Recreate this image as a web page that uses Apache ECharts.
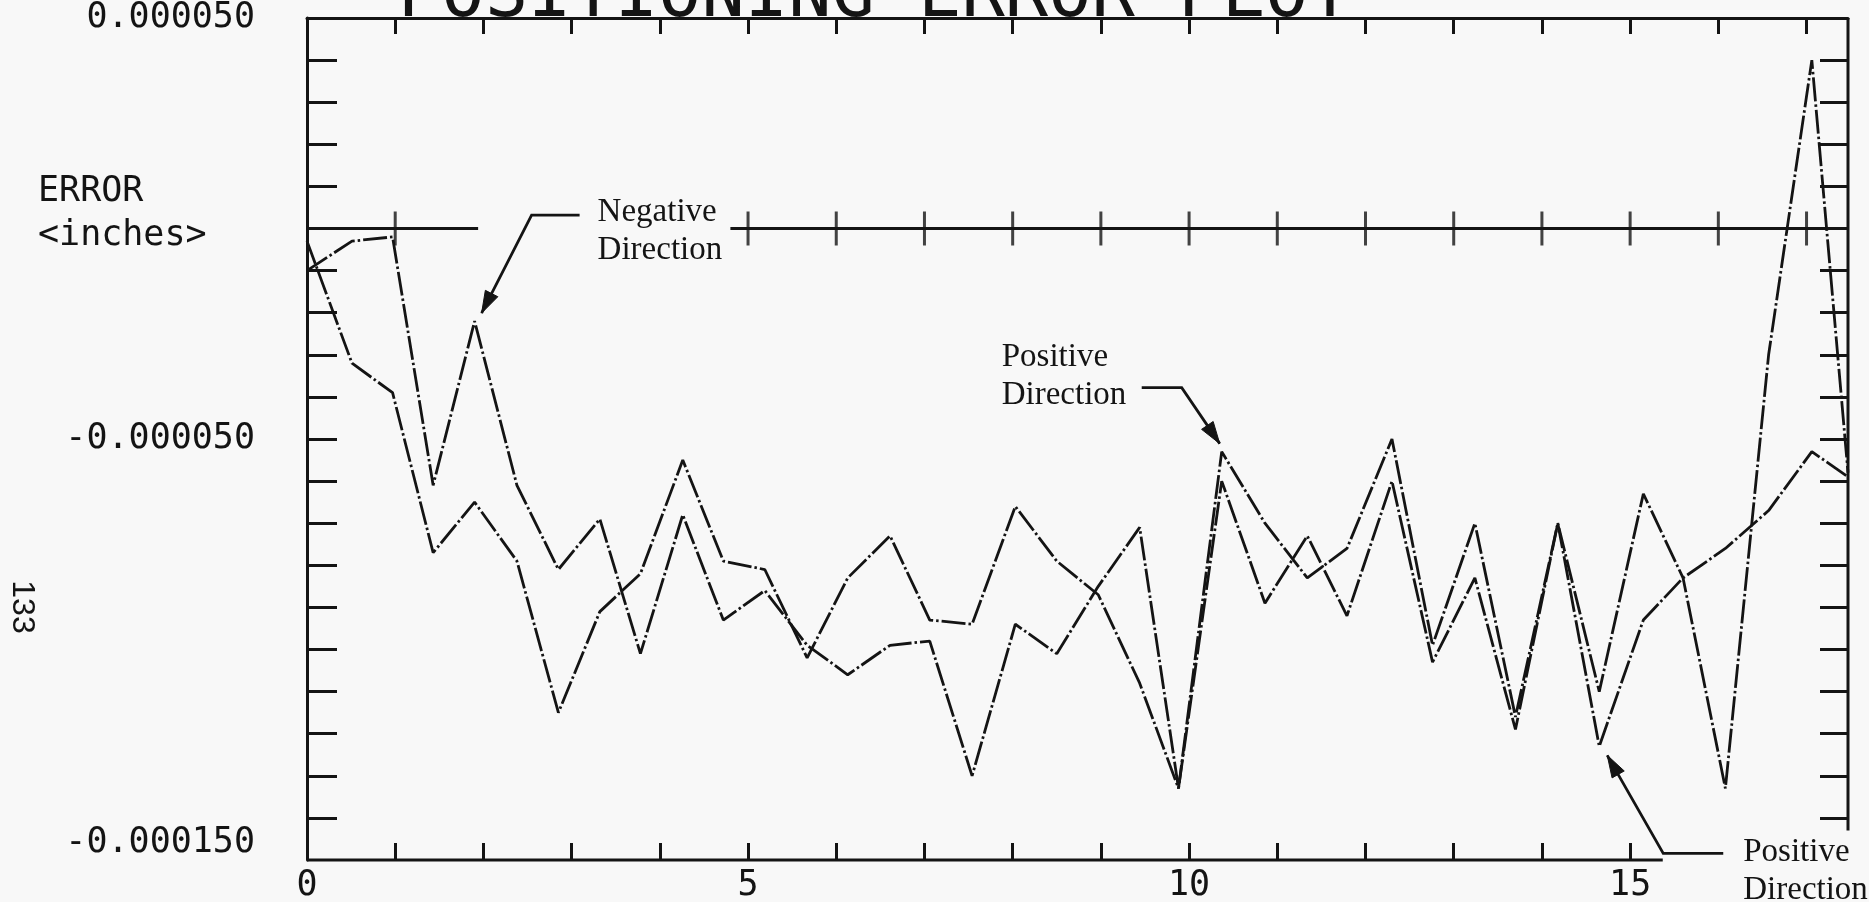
<!DOCTYPE html>
<html>
<head>
<meta charset="utf-8">
<title>Positioning Error Plot</title>
<script src="https://cdn.jsdelivr.net/npm/echarts@6/dist/echarts.min.js"></script>
<style>
  html, body { margin: 0; padding: 0; background: #f8f8f8; }
  #chart { width: 1869px; height: 902px; }
</style>
</head>
<body>
<div id="chart"></div>
<script>
// Table position of each measurement station (inches)
const stations = [0, 0.51, 0.97, 1.43, 1.90, 2.38, 2.85, 3.32, 3.78, 4.26, 4.72, 5.19, 5.67,
  6.13, 6.61, 7.06, 7.54, 8.03, 8.50, 8.97, 9.44, 9.88, 10.37, 10.86, 11.34, 11.79, 12.30,
  12.76, 13.24, 13.70, 14.18, 14.65, 15.15, 15.60, 16.08, 16.57, 17.06, 17.47];

// Positioning error in millionths of an inch, one value per station
const positiveDir = [-3, -32, -39, -77, -65, -79, -115, -91, -82, -55, -79, -81, -102,
  -83, -73, -93, -94, -66, -79, -87, -108, -133, -53, -70, -83, -76, -50,
  -99, -70, -116, -70, -123, -93, -83, -76, -67, -53, -59];
const negativeDir = [-10, -3, -2, -61, -22, -61, -81, -69, -101, -68, -93, -86, -99,
  -106, -99, -98, -130, -94, -101, -85, -71, -133, -60, -89, -73, -92, -60,
  -103, -83, -119, -70, -110, -63, -83, -133, -30, 40, -58];

// Axis ticks and labels (x in inches, y in millionths of an inch)
const xTickLabels = [0, 5, 10, 15];
const xTopTicks = [1, 2, 3, 4, 5, 6, 7, 8, 9, 10, 11, 12, 13, 14, 15, 16, 17];
const xBottomTicks = [1, 2, 3, 4, 5, 6, 7, 8, 9, 10, 11, 12, 13, 14, 15];
const zeroLineTicks = [1, 5, 6, 7, 8, 9, 10, 11, 12, 13, 14, 15, 16, 17];
const yTicks = [40, 30, 20, 10, 0, -10, -20, -30, -40, -50, -60, -70, -80, -90, -100,
  -110, -120, -130, -140];
const yTickLabels = [50, -50, -150];

// Frame extents
const X_MIN = 0, X_MAX = 17.47;
const Y_MIN = -150, Y_MAX = 50;
const BOTTOM_AXIS_END = 15.37;
const RIGHT_AXIS_END = -143;
const ZERO_LINE_PIECES = [[0, 1.94], [4.8, X_MAX]];

const INK = '#141414';
const MONO = 'DejaVu Sans Mono';
const SERIF = 'Liberation Serif';
const PEN = 3;

const chart = echarts.init(document.getElementById('chart'));

const toPoints = vals => stations.map((x, i) => [x, vals[i]]);

function framePiece(points) {
  return {
    type: 'line', data: points, symbol: 'none', silent: true, clip: false,
    lineStyle: { color: INK, width: PEN, type: 'solid' }, z: 3
  };
}

function traceSeries(name, vals) {
  return {
    name, type: 'line', data: toPoints(vals), symbol: 'none', silent: true,
    lineStyle: { color: INK, width: 2.8, type: [24, 3, 2.5, 3] }, z: 4
  };
}

const series = [
  traceSeries('Positive Direction', positiveDir),
  traceSeries('Negative Direction', negativeDir),
  framePiece([[X_MIN, Y_MIN], [BOTTOM_AXIS_END, Y_MIN]]),
  framePiece([[X_MAX, Y_MAX], [X_MAX, RIGHT_AXIS_END]]),
  ...ZERO_LINE_PIECES.map(([a, b]) => framePiece([[a, 0], [b, 0]])),
  {
    type: 'scatter', silent: true, z: 5,
    data: zeroLineTicks.map(x => [x, 0]),
    symbol: 'rect', symbolSize: [PEN, 34],
    itemStyle: { color: INK }
  }
];

const axisText = { fontFamily: MONO, fontSize: 35, color: INK };
const tickStyle = { color: INK, width: PEN };

chart.setOption({
  animation: false,
  backgroundColor: '#f8f8f8',
  grid: { left: 307, top: 18, width: 1541, height: 842, containLabel: false, outerBoundsMode: 'none' },
  xAxis: [
    {
      type: 'value', position: 'bottom', min: X_MIN, max: X_MAX,
      axisLine: { show: false, onZero: false },
      axisTick: { show: true, inside: true, length: 17, customValues: xBottomTicks, lineStyle: tickStyle },
      axisLabel: Object.assign({ show: true, margin: 8, customValues: xTickLabels,
        formatter: v => String(v) }, axisText),
      splitLine: { show: false }
    },
    {
      type: 'value', position: 'top', min: X_MIN, max: X_MAX,
      axisLine: { show: true, onZero: false, lineStyle: tickStyle },
      axisTick: { show: true, inside: true, length: 16, customValues: xTopTicks, lineStyle: tickStyle },
      axisLabel: { show: false },
      splitLine: { show: false }
    }
  ],
  yAxis: [
    {
      type: 'value', position: 'left', min: Y_MIN, max: Y_MAX, interval: 10,
      axisLine: { show: true, onZero: false, lineStyle: tickStyle },
      axisTick: { show: true, inside: true, length: 30, customValues: yTicks, lineStyle: tickStyle },
      axisLabel: Object.assign({ show: true, margin: 52, customValues: yTickLabels,
        verticalAlignMinLabel: 'middle', verticalAlignMaxLabel: 'bottom',
        formatter: v => (v / 1e6).toFixed(6) }, axisText),
      splitLine: { show: false }
    },
    {
      type: 'value', position: 'right', min: Y_MIN, max: Y_MAX, interval: 10,
      axisLine: { show: false, onZero: false },
      axisTick: { show: true, inside: true, length: 28, customValues: yTicks, lineStyle: tickStyle },
      axisLabel: { show: false },
      splitLine: { show: false }
    }
  ],
  series
});

// Call-outs that point at individual stations of a trace
const notes = [
  { vals: negativeDir, at: 4, label: 'Negative\nDirection',
    tip: [7, -8], elbow: [57, -106], tail: [105, -106], text: [123, -128] },
  { vals: positiveDir, at: 22, label: 'Positive\nDirection',
    tip: [-2, -8], elbow: [-40, -64], tail: [-80, -64], text: [-220, -113] },
  { vals: positiveDir, at: 31, label: 'Positive\nDirection',
    tip: [8, 9], elbow: [64, 107], tail: [124, 107], text: [144, 87] }
];

function arrowHead(from, tip, len, half) {
  const dx = tip[0] - from[0], dy = tip[1] - from[1];
  const d = Math.hypot(dx, dy), ux = dx / d, uy = dy / d;
  const bx = tip[0] - ux * len, by = tip[1] - uy * len;
  return [tip, [bx - uy * half, by + ux * half], [bx + uy * half, by - ux * half]];
}

const graphics = [];
notes.forEach(n => {
  const p = chart.convertToPixel({ xAxisIndex: 0, yAxisIndex: 0 }, [stations[n.at], n.vals[n.at]]);
  const off = o => [p[0] + o[0], p[1] + o[1]];
  const tip = off(n.tip), elbow = off(n.elbow), tail = off(n.tail);
  graphics.push({
    type: 'polyline', silent: true, z: 10,
    shape: { points: [tail, elbow, tip] },
    style: { stroke: INK, lineWidth: 2.8, fill: null }
  });
  graphics.push({
    type: 'polygon', silent: true, z: 10,
    shape: { points: arrowHead(elbow, tip, 22, 7) },
    style: { fill: INK, stroke: INK, lineWidth: 1 }
  });
  const t = off(n.text);
  graphics.push({
    type: 'text', silent: true, z: 10, x: t[0], y: t[1],
    style: { text: n.label, fontFamily: SERIF, fontSize: 33, lineHeight: 38,
      fill: INK, align: 'left', verticalAlign: 'top' }
  });
});

// Plot heading (runs off the top of the sheet)
graphics.push({
  type: 'text', silent: true, x: 398, y: -3,
  style: { text: 'POSITIONING ERROR PLOT', fontFamily: MONO, fontSize: 72,
    fill: INK, align: 'left', verticalAlign: 'middle' }
});

// Axis caption
graphics.push({
  type: 'text', silent: true, x: 38, y: 214,
  style: { text: 'ERROR\n<inches>', fontFamily: MONO, fontSize: 35, lineHeight: 44,
    fill: INK, align: 'left', verticalAlign: 'middle' }
});

// Page number printed along the binding edge
graphics.push({
  type: 'text', silent: true, x: 22, y: 607, rotation: -Math.PI / 2,
  style: { text: '133', fontFamily: 'Liberation Sans', fontSize: 32, fill: INK,
    align: 'center', verticalAlign: 'middle' }
});

chart.setOption({ graphic: graphics });
</script>
</body>
</html>
